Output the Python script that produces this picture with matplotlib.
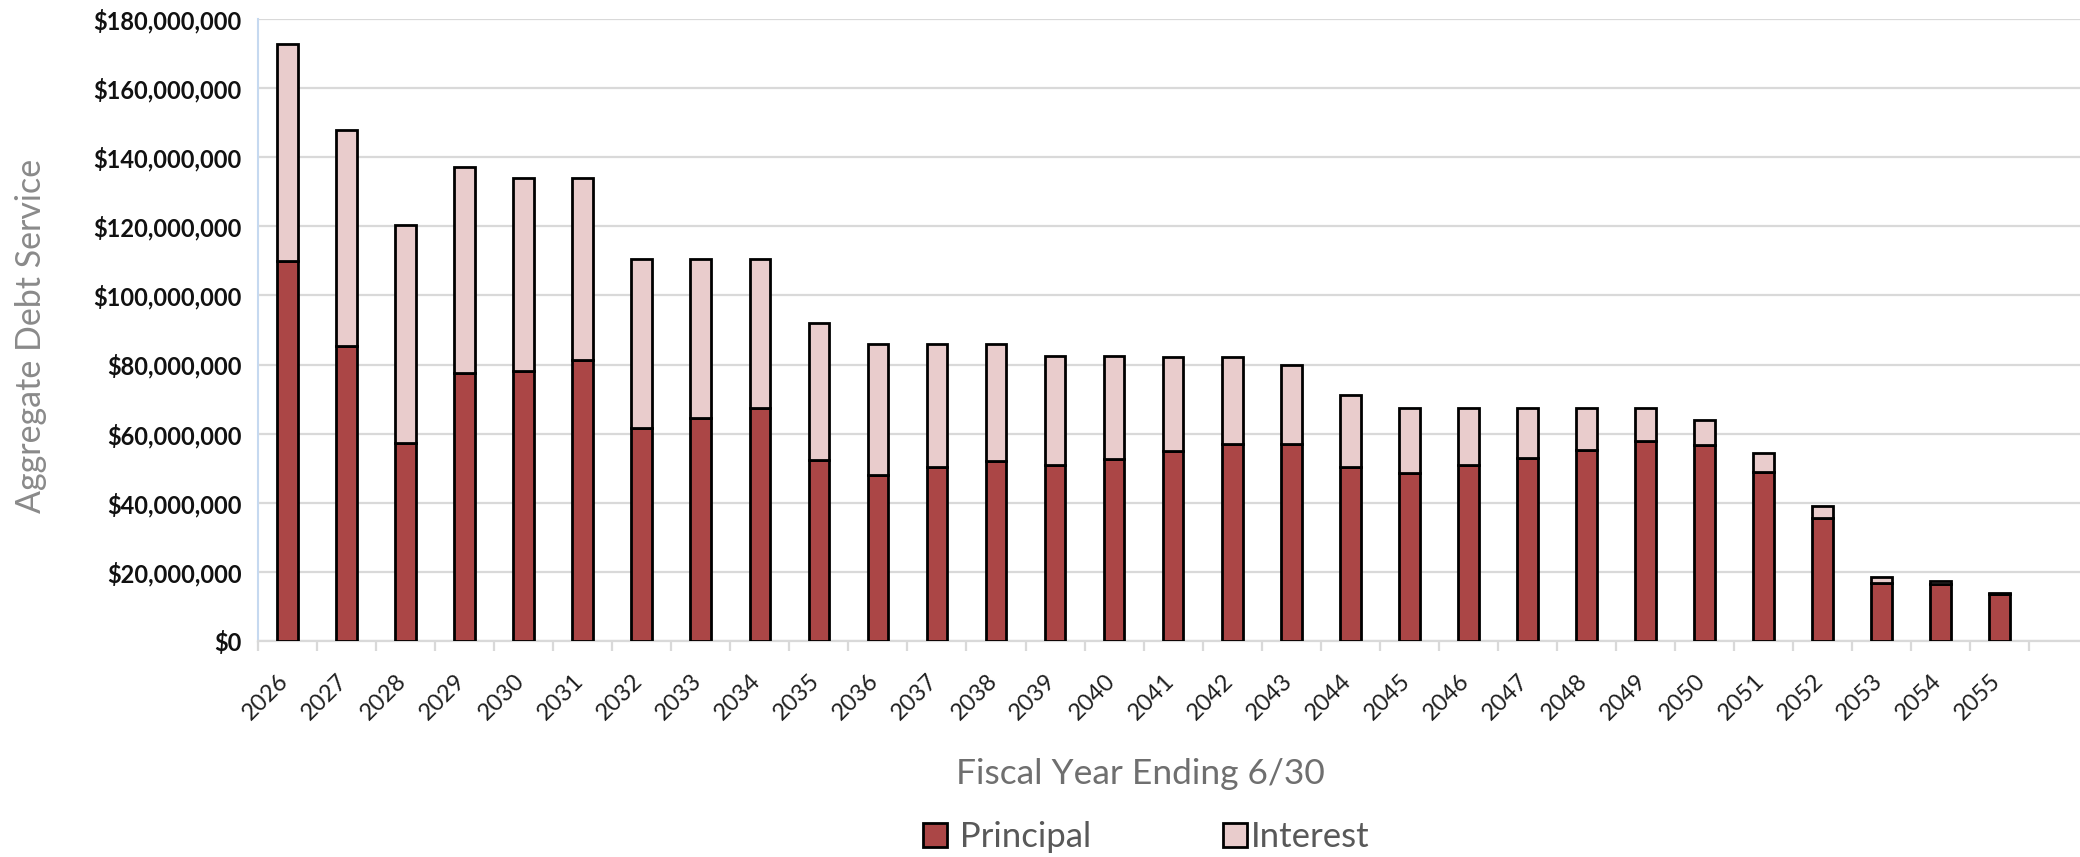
import numpy as np
import matplotlib
matplotlib.use('Agg')
import matplotlib.pyplot as plt
from matplotlib.patches import Patch
from matplotlib.ticker import FuncFormatter, MultipleLocator
from matplotlib.transforms import ScaledTranslation

years = [str(y) for y in range(2026, 2056)]

# aggregate debt service, $ millions
principal = [110.0, 85.4, 57.2, 77.5, 78.1, 81.4, 61.7, 64.4, 67.3, 52.3,
             47.9, 50.3, 52.1, 50.8, 52.6, 54.9, 57.1, 57.1, 50.3, 48.5,
             50.8, 53.0, 55.3, 57.8, 56.6, 48.9, 35.7, 16.7, 16.6, 13.6]
total = [172.8, 147.8, 120.3, 137.2, 134.0, 134.0, 110.5, 110.5, 110.5, 92.1,
         86.0, 86.0, 86.0, 82.6, 82.6, 82.1, 82.1, 79.9, 71.1, 67.3,
         67.3, 67.3, 67.3, 67.3, 64.0, 54.4, 39.0, 18.5, 17.3, 13.9]
interest = [t - p for t, p in zip(total, principal)]

principal_color = '#ab4646'
interest_color = '#e9cccc'
font = 'Lato'

plt.rcParams['font.family'] = [font, 'DejaVu Sans']

fig = plt.figure(figsize=(20.8, 8.57), dpi=100)
ax = fig.add_axes([258 / 2080, 1 - 641 / 857, 1 - 258 / 2080, (641 - 19) / 857])

x = np.arange(len(years))
p_vals = np.array(principal) * 1e6
i_vals = np.array(interest) * 1e6
ax.bar(x, p_vals, width=0.35, color=principal_color, edgecolor='black', linewidth=2.0, zorder=3)
ax.bar(x, i_vals, width=0.35, bottom=p_vals, color=interest_color, edgecolor='black', linewidth=2.0, zorder=3)

ax.set_ylim(0, 180e6)
ax.set_xlim(-0.5, 30.36)
ax.yaxis.set_major_locator(MultipleLocator(20e6))
ax.yaxis.set_major_formatter(FuncFormatter(lambda v, pos: f'${v:,.0f}'))
ax.grid(axis='y', color='#d9d9d9', linewidth=1.6, zorder=0)
ax.set_axisbelow(True)

for s in ['top', 'right']:
    ax.spines[s].set_visible(False)
ax.spines['left'].set_color('#c6d9f0')
ax.spines['left'].set_linewidth(1.5)
ax.spines['bottom'].set_color('#d9d9d9')
ax.spines['bottom'].set_linewidth(1.6)

ax.tick_params(axis='y', length=0, pad=12, labelsize=17, labelcolor='#111111')
for lab in ax.get_yticklabels():
    lab.set_fontweight('bold')

ax.set_xticks(x)
ax.set_xticklabels(years, rotation=45, ha='right', fontsize=17, color='#1f1f1f')
ax.tick_params(axis='x', which='major', length=0, pad=21)
shift = ScaledTranslation(5 / 100, 0, fig.dpi_scale_trans)
for lab in ax.get_xticklabels():
    lab.set_transform(lab.get_transform() + shift)
ax.set_xticks(np.arange(-0.5, 30, 1.0), minor=True)
ax.tick_params(axis='x', which='minor', length=7, width=1.6, color='#d9d9d9')

fig.text(31 / 2080, 1 - 336 / 857, 'Aggregate Debt Service', fontsize=24.5, color='#8a8a8a',
         rotation=90, ha='center', va='center')
fig.text(1140 / 2080, 1 - 774 / 857, 'Fiscal Year Ending 6/30', fontsize=25.5, color='#6f6f6f',
         ha='center', va='center')

handles = [Patch(facecolor=principal_color, edgecolor='black', linewidth=2.0, label=' Principal'),
           Patch(facecolor=interest_color, edgecolor='black', linewidth=2.0, label='Interest')]
fig.legend(handles=handles, loc='center', bbox_to_anchor=(1146 / 2080, 1 - 837 / 857), ncol=2,
           frameon=False, fontsize=25, labelcolor='#595959', handlelength=0.7, handleheight=0.7,
           handletextpad=0.1, columnspacing=3.8)

fig.savefig('out.png', dpi=100)
